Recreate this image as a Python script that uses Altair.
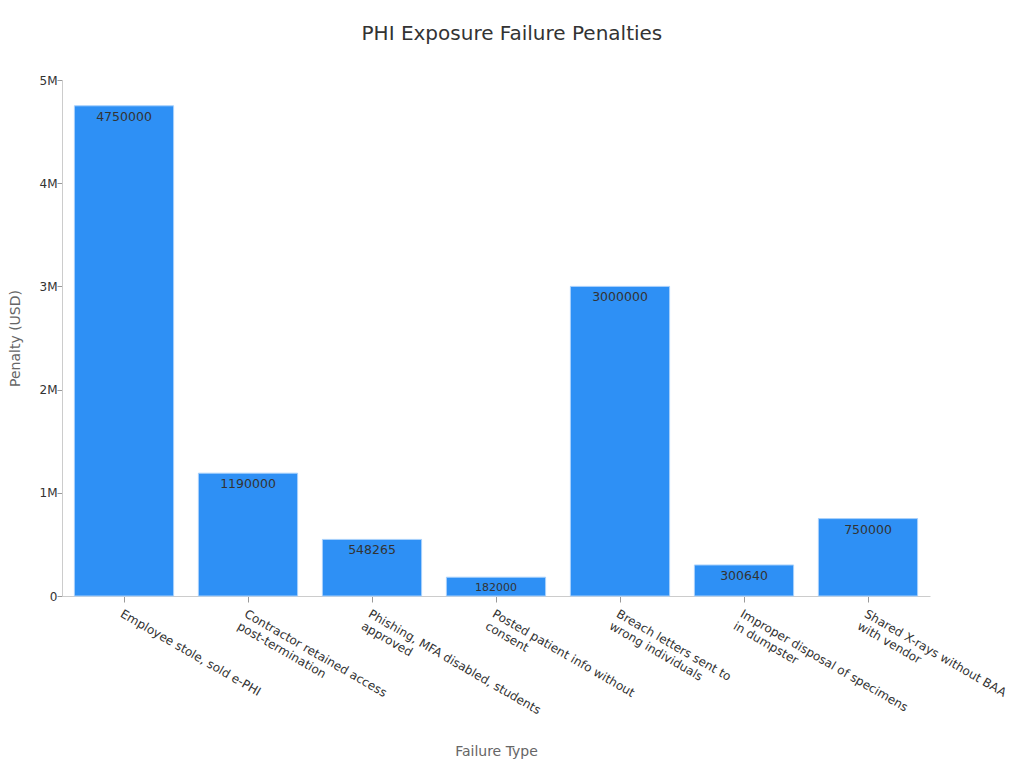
import altair as alt
import pandas as pd

failure_types = [
    "Employee stole, sold e-PHI",
    "Contractor retained access\npost-termination",
    "Phishing, MFA disabled, students\napproved",
    "Posted patient info without\nconsent",
    "Breach letters sent to\nwrong individuals",
    "Improper disposal of specimens\nin dumpster",
    "Shared X-rays without BAA\nwith vendor",
]
penalties = [4750000, 1190000, 548265, 182000, 3000000, 300640, 750000]

df = pd.DataFrame({"Failure Type": failure_types, "Penalty": penalties})

font = "DejaVu Sans"

base = alt.Chart(df).encode(
    x=alt.X(
        "Failure Type:N",
        sort=failure_types,
        title="Failure Type",
        scale=alt.Scale(paddingInner=0.2, paddingOuter=0.1),
        axis=alt.Axis(
            labelAngle=30,
            labelAlign="left",
            labelBaseline="top",
            labelExpr="split(datum.label, '\\n')",
            labelLimit=400,
            labelFontSize=12,
            labelColor="#333333",
            labelPadding=6,
            titleFontSize=14,
            titleColor="#666666",
            titleFontWeight="normal",
            titlePadding=17,
            domainColor="#cccccc",
            tickColor="#999999",
            tickSize=6,
        ),
    ),
    y=alt.Y(
        "Penalty:Q",
        title="Penalty (USD)",
        scale=alt.Scale(domain=[0, 5000000]),
        axis=alt.Axis(
            labelExpr="datum.value == 0 ? '0' : format(datum.value, '~s')",
            tickCount=5,
            grid=False,
            labelFontSize=12,
            labelColor="#333333",
            labelPadding=0,
            titleFontSize=14,
            titleColor="#666666",
            titleFontWeight="normal",
            titlePadding=17,
            domainColor="#cccccc",
            tickColor="#999999",
            tickSize=5,
        ),
    ),
)

bars = base.mark_bar(color="#2e90f5", stroke="#a9d1fb", strokeWidth=1)

labels = base.mark_text(baseline="top", dy=5, color="#333333", font=font).encode(
    text="Penalty:Q",
    size=alt.condition(alt.datum.Penalty < 200000, alt.value(11), alt.value(12.5)),
)

chart = (
    (bars + labels)
    .properties(
        width=868,
        height=516,
        title=alt.TitleParams(
            "PHI Exposure Failure Penalties",
            fontSize=20,
            fontWeight="normal",
            color="#333333",
            font=font,
            offset=30,
            frame="bounds",
            anchor="middle",
            dx=4,
        ),
        padding={"left": 0, "top": 16, "right": 0, "bottom": 0},
    )
    .configure(font=font)
    .configure_view(stroke=None)
)

chart.save("out.html", embed_options={"renderer": "svg", "actions": False})
